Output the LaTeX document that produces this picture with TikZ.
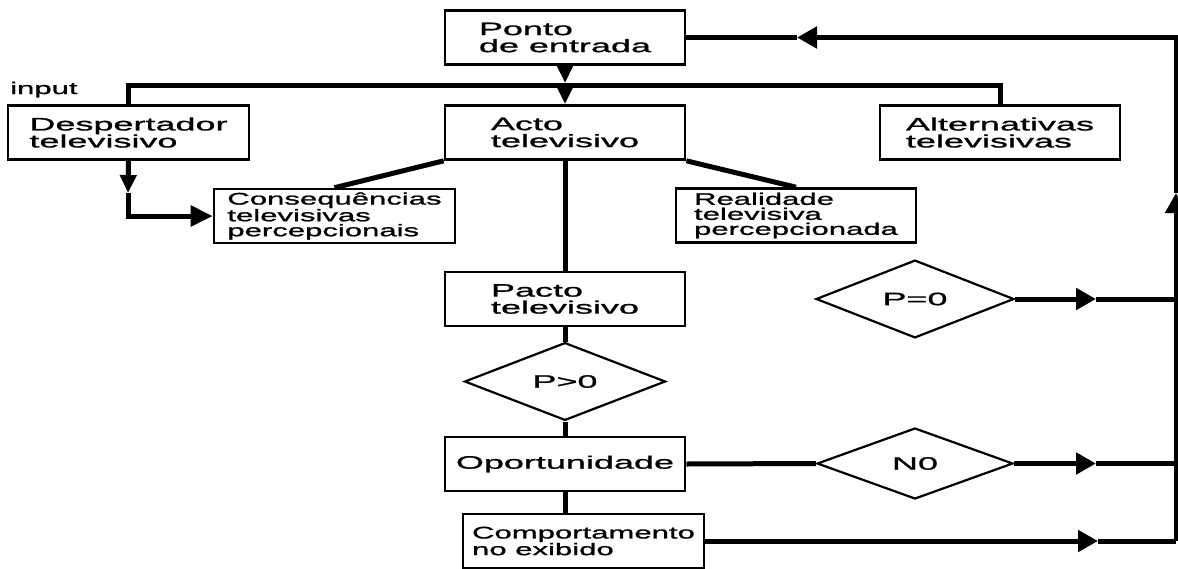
\documentclass[tikz,border=0pt]{standalone}
\usepackage{fontspec}
\setmainfont[FakeStretch=2.0,FakeBold=1.2]{Liberation Sans}
\newfontfamily\smallfont[FakeStretch=1.85,FakeBold=1.2]{Liberation Sans}
\usetikzlibrary{arrows.meta,shapes.geometric}
\newcommand\mainf{\fontsize{18}{17}\selectfont}
\newcommand\smallf{\smallfont\fontsize{16.8}{15}\selectfont}
\begin{document}
\begin{tikzpicture}[x=1pt,y=-1pt,
  box/.style={draw, line width=2.6pt, minimum width=240pt, minimum height=54pt, inner sep=0pt, align=left, font=\mainf},
  sbox/.style={box, font=\smallf},
  dia/.style={draw, diamond, line width=2.2pt, minimum width=200pt, minimum height=70pt, inner sep=0pt, font=\mainf},
  conn/.style={line width=5pt},
  tip/.style={-{Triangle[length=20pt,width=21pt]}},
  stip/.style={-{Triangle[length=18pt,width=16pt]}}]
\useasboundingbox (0,0) rectangle (1178,568);
% boxes
\node[box] (ponto) at (565,37.5) {Ponto\\de entrada};
\node[box] (acto) at (565,132.5) {Acto\\televisivo};
\node[box, minimum width=241pt] (desp) at (128.5,132.5) {Despertador\\televisivo};
\node[box] (alt) at (1000,132.5) {Alternativas\\televisivas};
\node[sbox, minimum width=241pt] (cons) at (334.5,216) {Consequências\\televisivas\\percepcionais};
\node[sbox] (real) at (796,215.5) {Realidade\\televisiva\\percepcionada};
\node[box] (pacto) at (565,299) {Pacto\\televisivo};
\node[dia, minimum width=201pt, minimum height=69pt] (pgt) at (565,381.5) {P>0};
\node[box] (opor) at (565,464) {Oportunidade};
\node[sbox, minimum width=241pt] (comp) at (583.5,541) {Comportamento\\no exibido};
\node[dia, minimum width=198pt, minimum height=72pt] (peq) at (915,299) {P=0};
\node[dia, minimum width=196pt, minimum height=71pt] (nz) at (915,463.5) {N0};
\node[font=\smallf, anchor=base west, inner sep=0pt] (inp) at (10,94) {input};
% coordinates
\coordinate (hl) at (0,85);
\coordinate (pj) at (565,83);
\coordinate (dmid) at (128,193);
\coordinate (rb) at (1176,541);
\coordinate (rp) at (1176,299);
\coordinate (rn) at (1176,463.5);
\coordinate (rup) at (1176,193);
\coordinate (tarr) at (797,37.5);
\coordinate (ap) at (1096,299);
\coordinate (an) at (1096,463.5);
\coordinate (ac) at (1098,541);
% connectors
\draw[conn] (desp.north) -- (desp.north |- hl) -- (alt.north |- hl) -- (alt.north);
\draw[conn, stip] (ponto.south) -- (pj);
\draw[conn, stip] (pj) -- (acto.north);
\draw[conn, stip] (desp.south) -- (dmid);
\draw[conn, -{Triangle[length=22pt,width=20pt]}] (dmid) |- (cons.west);
\draw[conn] (acto.south west) -- (cons.north);
\draw[conn] (acto.south east) -- (real.north);
\draw[conn] (acto.south) -- (pacto.north);
\draw[conn] (pacto.south) -- (pgt.north);
\draw[conn] (pgt.south) -- (opor.north);
\draw[conn] (opor.south) -- (opor.south |- comp.north);
\draw[conn] (opor.east) -- (nz.west);
\draw[conn, tip] (peq.east) -- (ap);
\draw[conn] (ap) -- (rp);
\draw[conn, tip] (nz.east) -- (an);
\draw[conn] (an) -- (rn);
\draw[conn, tip] (comp.east) -- (ac);
\draw[conn] (ac) -- (rb);
\draw[conn, tip] (rb) -- (rup);
\draw[conn, tip] (rup) |- (tarr);
\draw[conn] (tarr) -- (ponto.east);
\end{tikzpicture}
\end{document}
